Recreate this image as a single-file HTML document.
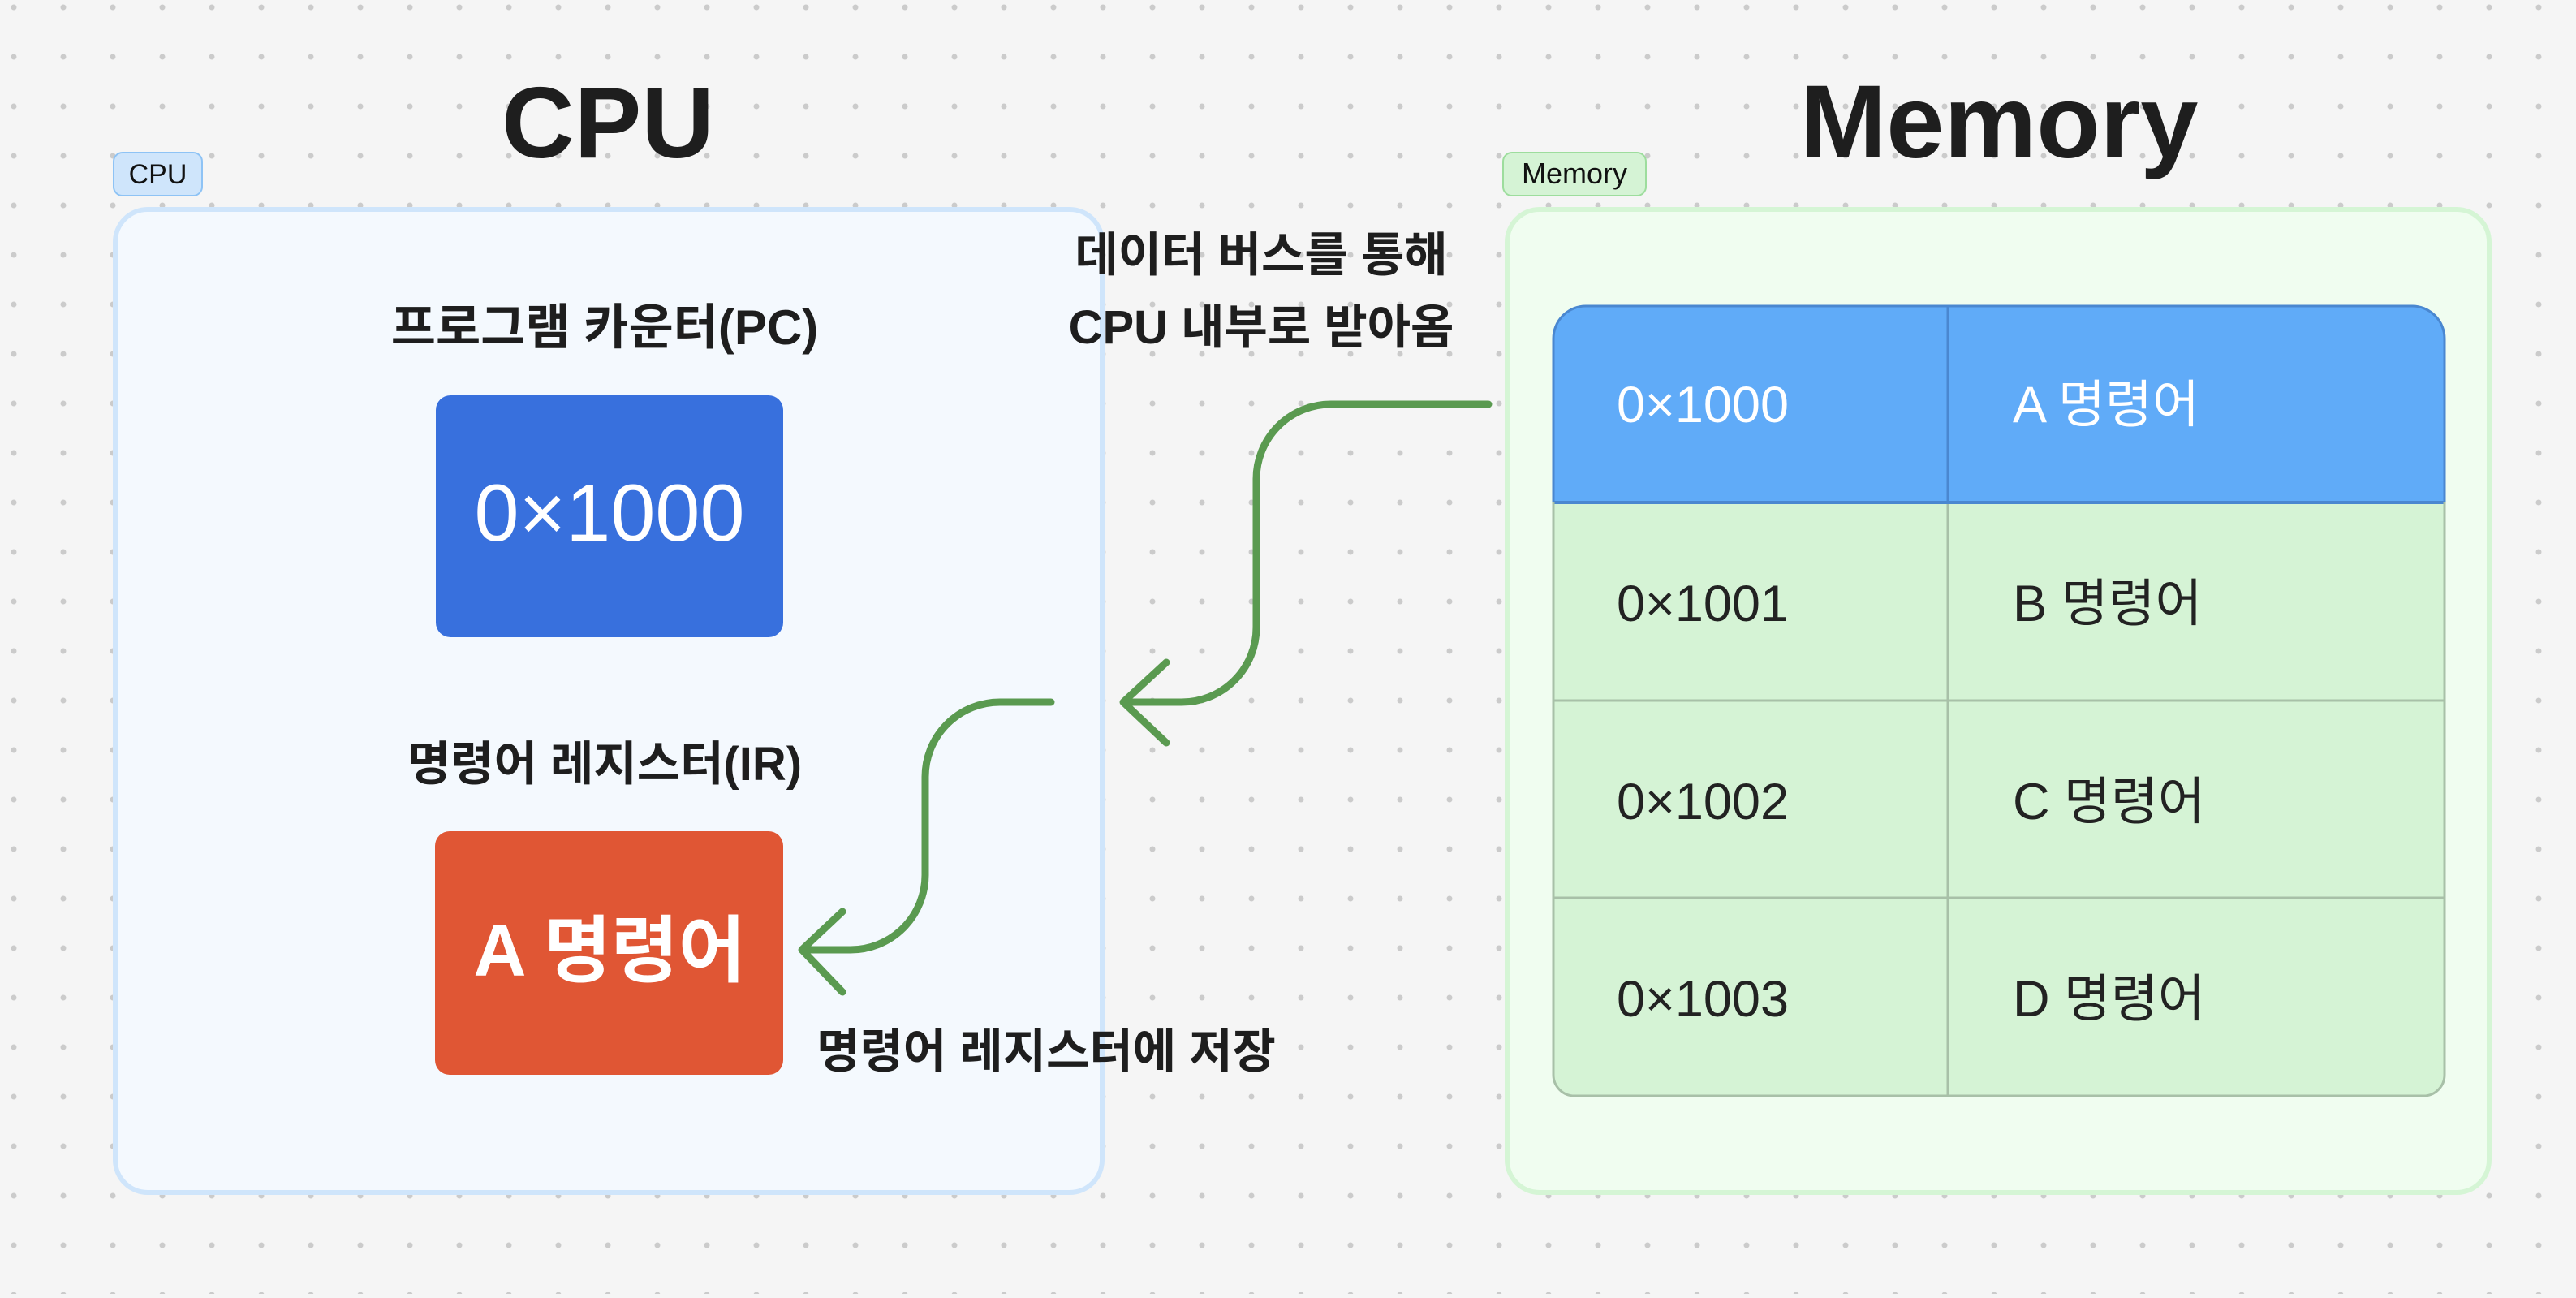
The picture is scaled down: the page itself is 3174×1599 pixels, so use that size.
<!DOCTYPE html>
<html><head><meta charset="utf-8"><style>
html,body{margin:0;padding:0;}
body{width:3174px;height:1594px;overflow:hidden;background:#f5f5f5;}
svg text{font-family:"Liberation Sans","Noto Sans CJK KR",sans-serif;}
</style></head><body>
<svg width="3174" height="1594" viewBox="0 0 3174 1594" xmlns="http://www.w3.org/2000/svg">
<defs>
<pattern id="dots" x="17" y="9" width="61" height="61" patternUnits="userSpaceOnUse">
<circle cx="0" cy="0" r="3.5" fill="#cbcbcb"/><circle cx="61" cy="0" r="3.5" fill="#cbcbcb"/><circle cx="0" cy="61" r="3.5" fill="#cbcbcb"/><circle cx="61" cy="61" r="3.5" fill="#cbcbcb"/>
</pattern>
<clipPath id="tbl"><path d="M1914 417 A40 40 0 0 1 1954 377 H2972 A40 40 0 0 1 3012 417 V1324 A26 26 0 0 1 2986 1350 H1940 A26 26 0 0 1 1914 1324 Z"/></clipPath>
</defs>
<rect width="3174" height="1594" fill="url(#dots)"/>

<text x="749" y="194" font-size="124" font-weight="bold" text-anchor="middle" fill="#1e1e1e">CPU</text>
<text x="2463" y="194" font-size="128" font-weight="bold" text-anchor="middle" fill="#1e1e1e">Memory</text>

<rect x="140" y="188" width="109" height="53" rx="11" fill="#cfe5fb" stroke="#8ec3f5" stroke-width="2"/>
<text x="194.5" y="226" font-size="34" text-anchor="middle" fill="#111">CPU</text>
<rect x="142" y="258" width="1216" height="1211" rx="40" fill="#f4f9fe" stroke="#cfe5fb" stroke-width="6"/>

<rect x="1852" y="188" width="176" height="53" rx="11" fill="#d5f3d5" stroke="#9ddd9d" stroke-width="2"/>
<text x="1940" y="226" font-size="36" text-anchor="middle" fill="#111">Memory</text>
<rect x="1857" y="258" width="1210" height="1211" rx="40" fill="#f0fdf0" stroke="#d5f5d5" stroke-width="6"/>

<text x="745" y="424" font-size="60" font-weight="bold" text-anchor="middle" fill="#1e1e1e">프로그램 카운터(PC)</text>
<rect x="537" y="487" width="428" height="298" rx="18" fill="#3870dd"/>
<text x="751" y="666" font-size="99" text-anchor="middle" fill="#fff">0×1000</text>

<text x="745" y="961" font-size="58" font-weight="bold" text-anchor="middle" fill="#1e1e1e">명령어 레지스터(IR)</text>
<rect x="536" y="1024" width="429" height="300" rx="18" fill="#e05634"/>
<text x="751" y="1202" font-size="90" font-weight="bold" text-anchor="middle" fill="#fff">A 명령어</text>

<text x="1554" y="334" font-size="58" font-weight="bold" text-anchor="middle" fill="#1e1e1e">데이터 버스를 통해</text>
<text x="1554" y="423" font-size="58" font-weight="bold" text-anchor="middle" fill="#1e1e1e">CPU 내부로 받아옴</text>
<text x="1289" y="1315" font-size="58" font-weight="bold" text-anchor="middle" fill="#1e1e1e">명령어 레지스터에 저장</text>

<g clip-path="url(#tbl)">
<rect x="1914" y="377" width="1098" height="242" fill="#60abf8"/>
<rect x="1914" y="619" width="1098" height="731" fill="#d5f3d5"/>
<line x1="1914" y1="863" x2="3012" y2="863" stroke="#a8c0a8" stroke-width="3"/>
<line x1="1914" y1="1106" x2="3012" y2="1106" stroke="#a8c0a8" stroke-width="3"/>
<line x1="2400" y1="619" x2="2400" y2="1350" stroke="#a8c0a8" stroke-width="3"/>
<line x1="2400" y1="377" x2="2400" y2="619" stroke="#4a87d0" stroke-width="3"/>
<line x1="1914" y1="619" x2="3012" y2="619" stroke="#4a87d0" stroke-width="4"/>
</g>
<path d="M1914 619 V417 A40 40 0 0 1 1954 377 H2972 A40 40 0 0 1 3012 417 V619" fill="none" stroke="#4a87d0" stroke-width="3"/>
<path d="M1914 619 V1324 A26 26 0 0 0 1940 1350 H2986 A26 26 0 0 0 3012 1324 V619" fill="none" stroke="#a8c0a8" stroke-width="3"/>

<g font-size="63">
<text x="1992" y="520" fill="#fff">0×1000</text>
<text x="2480" y="520" fill="#fff">A 명령어</text>
<text x="1992" y="765" fill="#222">0×1001</text>
<text x="2480" y="765" fill="#222">B 명령어</text>
<text x="1992" y="1009" fill="#222">0×1002</text>
<text x="2480" y="1009" fill="#222">C 명령어</text>
<text x="1992" y="1252" fill="#222">0×1003</text>
<text x="2480" y="1252" fill="#222">D 명령어</text>
</g>

<g fill="none" stroke="#5a9a50" stroke-width="9" stroke-linecap="round" stroke-linejoin="round">
<path d="M1834 498 H1640 A92 92 0 0 0 1548 590 V773 A92 92 0 0 1 1456 865 H1386"/>
<path d="M1437 816 L1384 865 L1437 915"/>
<path d="M1295 865 H1232 A92 92 0 0 0 1140 957 V1078 A92 92 0 0 1 1048 1170 H990"/>
<path d="M1038 1123 L988 1170 L1038 1222"/>
</g>
</svg>
</body></html>
